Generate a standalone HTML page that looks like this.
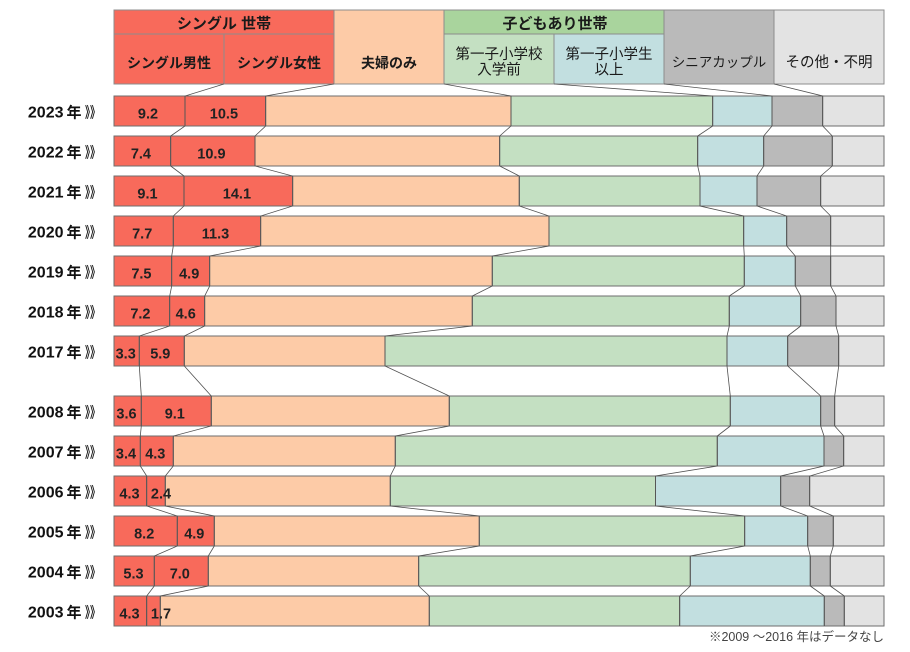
<!DOCTYPE html>
<html lang="ja">
<head>
<meta charset="utf-8">
<style>
  html,body{margin:0;padding:0;background:#fff;}
  svg{display:block;}
  .t{font-family:"Liberation Sans","Noto Sans CJK JP",sans-serif;fill:#1a1a1a;}
  .b{font-weight:bold;}
  .r{fill:#f86a5b;}
  .p{fill:#fdcba7;}
  .g{fill:#c4e0c2;}
  .u{fill:#c2dfe0;}
  .k{fill:#bababa;}
  .l{fill:#e3e3e3;}
  .bars rect{stroke:#6e6e6e;stroke-width:1;}
  .hdr rect{stroke:#8c8c8c;stroke-width:1;}
  .con polyline{fill:none;stroke:#505050;stroke-width:0.8;}
  .lab{font-family:"Liberation Sans",sans-serif;font-weight:bold;font-size:14.5px;fill:#222;text-anchor:middle;}
  .yr{font-family:"Liberation Sans",sans-serif;font-weight:bold;font-size:16px;fill:#111;text-anchor:end;}
  .nen{font-family:"Liberation Sans","Noto Sans CJK JP",sans-serif;font-weight:bold;font-size:15px;fill:#111;}
</style>
</head>
<body>
<svg width="910" height="652" viewBox="0 0 910 652" xmlns="http://www.w3.org/2000/svg">

<!-- Header -->
<g class="hdr">
  <rect class="r" x="114" y="10" width="220" height="24"/>
  <rect class="r" x="114" y="34" width="110" height="50"/>
  <rect class="r" x="224" y="34" width="110" height="50"/>
  <rect class="p" x="334" y="10" width="110" height="74"/>
  <rect x="444" y="10" width="220" height="24" fill="#a9d49d"/>
  <rect class="g" x="444" y="34" width="110" height="50"/>
  <rect class="u" x="554" y="34" width="110" height="50"/>
  <rect class="k" x="664" y="10" width="110" height="74"/>
  <rect class="l" x="774" y="10" width="110" height="74"/>
</g>
<g text-anchor="middle">
  <text class="t b" x="224" y="28.5" font-size="15">シングル 世帯</text>
  <text class="t b" x="169" y="68" font-size="14">シングル男性</text>
  <text class="t b" x="279" y="68" font-size="14">シングル女性</text>
  <text class="t b" x="389" y="68" font-size="14">夫婦のみ</text>
  <text class="t b" x="555" y="28.5" font-size="15">子どもあり世帯</text>
  <text class="t" x="499" y="59" font-size="14.5">第一子小学校</text>
  <text class="t" x="499" y="74.5" font-size="14.5">入学前</text>
  <text class="t" x="609" y="59" font-size="14.5">第一子小学生</text>
  <text class="t" x="609" y="74.5" font-size="14.5">以上</text>
  <text class="t" x="719" y="67" font-size="13.5">シニアカップル</text>
  <text class="t" x="829" y="67" font-size="14.5">その他・不明</text>
</g>

<!-- Bars -->
<g class="bars">
  <!-- 2023 -->
  <rect class="r" x="114" y="96" width="71" height="30"/>
  <rect class="r" x="185" y="96" width="80.7" height="30"/>
  <rect class="p" x="265.7" y="96" width="245.3" height="30"/>
  <rect class="g" x="511" y="96" width="201.7" height="30"/>
  <rect class="u" x="712.7" y="96" width="59.3" height="30"/>
  <rect class="k" x="772" y="96" width="50.7" height="30"/>
  <rect class="l" x="822.7" y="96" width="61.3" height="30"/>
  <!-- 2022 -->
  <rect class="r" x="114" y="136" width="56.7" height="30"/>
  <rect class="r" x="170.7" y="136" width="84.3" height="30"/>
  <rect class="p" x="255" y="136" width="244.7" height="30"/>
  <rect class="g" x="499.7" y="136" width="198" height="30"/>
  <rect class="u" x="697.7" y="136" width="66" height="30"/>
  <rect class="k" x="763.7" y="136" width="68.6" height="30"/>
  <rect class="l" x="832.3" y="136" width="51.7" height="30"/>
  <!-- 2021 -->
  <rect class="r" x="114" y="176" width="70" height="30"/>
  <rect class="r" x="184" y="176" width="108.7" height="30"/>
  <rect class="p" x="292.7" y="176" width="226.6" height="30"/>
  <rect class="g" x="519.3" y="176" width="180.7" height="30"/>
  <rect class="u" x="700" y="176" width="57" height="30"/>
  <rect class="k" x="757" y="176" width="63.7" height="30"/>
  <rect class="l" x="820.7" y="176" width="63.3" height="30"/>
  <!-- 2020 -->
  <rect class="r" x="114" y="216" width="59.3" height="30"/>
  <rect class="r" x="173.3" y="216" width="87.4" height="30"/>
  <rect class="p" x="260.7" y="216" width="288.3" height="30"/>
  <rect class="g" x="549" y="216" width="194.7" height="30"/>
  <rect class="u" x="743.7" y="216" width="43" height="30"/>
  <rect class="k" x="786.7" y="216" width="44" height="30"/>
  <rect class="l" x="830.7" y="216" width="53.3" height="30"/>
  <!-- 2019 -->
  <rect class="r" x="114" y="256" width="57.7" height="30"/>
  <rect class="r" x="171.7" y="256" width="38" height="30"/>
  <rect class="p" x="209.7" y="256" width="282.6" height="30"/>
  <rect class="g" x="492.3" y="256" width="252" height="30"/>
  <rect class="u" x="744.3" y="256" width="51" height="30"/>
  <rect class="k" x="795.3" y="256" width="35.4" height="30"/>
  <rect class="l" x="830.7" y="256" width="53.3" height="30"/>
  <!-- 2018 -->
  <rect class="r" x="114" y="296" width="55.7" height="30"/>
  <rect class="r" x="169.7" y="296" width="35" height="30"/>
  <rect class="p" x="204.7" y="296" width="267.6" height="30"/>
  <rect class="g" x="472.3" y="296" width="257" height="30"/>
  <rect class="u" x="729.3" y="296" width="71.4" height="30"/>
  <rect class="k" x="800.7" y="296" width="35.3" height="30"/>
  <rect class="l" x="836" y="296" width="48" height="30"/>
  <!-- 2017 -->
  <rect class="r" x="114" y="336" width="25.3" height="30"/>
  <rect class="r" x="139.3" y="336" width="45" height="30"/>
  <rect class="p" x="184.3" y="336" width="200.7" height="30"/>
  <rect class="g" x="385" y="336" width="342" height="30"/>
  <rect class="u" x="727" y="336" width="60.7" height="30"/>
  <rect class="k" x="787.7" y="336" width="51" height="30"/>
  <rect class="l" x="838.7" y="336" width="45.3" height="30"/>
  <!-- 2008 -->
  <rect class="r" x="114" y="396" width="27.3" height="30"/>
  <rect class="r" x="141.3" y="396" width="70" height="30"/>
  <rect class="p" x="211.3" y="396" width="238" height="30"/>
  <rect class="g" x="449.3" y="396" width="281" height="30"/>
  <rect class="u" x="730.3" y="396" width="90.4" height="30"/>
  <rect class="k" x="820.7" y="396" width="14" height="30"/>
  <rect class="l" x="834.7" y="396" width="49.3" height="30"/>
  <!-- 2007 -->
  <rect class="r" x="114" y="436" width="26.3" height="30"/>
  <rect class="r" x="140.3" y="436" width="33" height="30"/>
  <rect class="p" x="173.3" y="436" width="222" height="30"/>
  <rect class="g" x="395.3" y="436" width="322" height="30"/>
  <rect class="u" x="717.3" y="436" width="106.7" height="30"/>
  <rect class="k" x="824" y="436" width="19.7" height="30"/>
  <rect class="l" x="843.7" y="436" width="40.3" height="30"/>
  <!-- 2006 -->
  <rect class="r" x="114" y="476" width="32.7" height="30"/>
  <rect class="r" x="146.7" y="476" width="18.6" height="30"/>
  <rect class="p" x="165.3" y="476" width="225" height="30"/>
  <rect class="g" x="390.3" y="476" width="265.2" height="30"/>
  <rect class="u" x="655.5" y="476" width="125.2" height="30"/>
  <rect class="k" x="780.7" y="476" width="29" height="30"/>
  <rect class="l" x="809.7" y="476" width="74.3" height="30"/>
  <!-- 2005 -->
  <rect class="r" x="114" y="516" width="63.3" height="30"/>
  <rect class="r" x="177.3" y="516" width="37" height="30"/>
  <rect class="p" x="214.3" y="516" width="265" height="30"/>
  <rect class="g" x="479.3" y="516" width="265.4" height="30"/>
  <rect class="u" x="744.7" y="516" width="63" height="30"/>
  <rect class="k" x="807.7" y="516" width="25.6" height="30"/>
  <rect class="l" x="833.3" y="516" width="50.7" height="30"/>
  <!-- 2004 -->
  <rect class="r" x="114" y="556" width="40.3" height="30"/>
  <rect class="r" x="154.3" y="556" width="54" height="30"/>
  <rect class="p" x="208.3" y="556" width="210.4" height="30"/>
  <rect class="g" x="418.7" y="556" width="271.6" height="30"/>
  <rect class="u" x="690.3" y="556" width="120" height="30"/>
  <rect class="k" x="810.3" y="556" width="20" height="30"/>
  <rect class="l" x="830.3" y="556" width="53.7" height="30"/>
  <!-- 2003 -->
  <rect class="r" x="114" y="596" width="32.7" height="30"/>
  <rect class="r" x="146.7" y="596" width="13.6" height="30"/>
  <rect class="p" x="160.3" y="596" width="269" height="30"/>
  <rect class="g" x="429.3" y="596" width="250.4" height="30"/>
  <rect class="u" x="679.7" y="596" width="144.6" height="30"/>
  <rect class="k" x="824.3" y="596" width="20" height="30"/>
  <rect class="l" x="844.3" y="596" width="39.7" height="30"/>
</g>

<!-- Connector lines -->
<g class="con">
  <polyline points="224,84 185,96 185,126 170.7,136 170.7,166 184,176 184,206 173.3,216 173.3,246 171.7,256 171.7,286 169.7,296 169.7,326 139.3,336 139.3,366 141.3,396 141.3,426 140.3,436 140.3,466 146.7,476 146.7,506 177.3,516 177.3,546 154.3,556 154.3,586 146.7,596 146.7,626"/>
  <polyline points="334,84 265.7,96 265.7,126 255,136 255,166 292.7,176 292.7,206 260.7,216 260.7,246 209.7,256 209.7,286 204.7,296 204.7,326 184.3,336 184.3,366 211.3,396 211.3,426 173.3,436 173.3,466 165.3,476 165.3,506 214.3,516 214.3,546 208.3,556 208.3,586 160.3,596 160.3,626"/>
  <polyline points="444,84 511,96 511,126 499.7,136 499.7,166 519.3,176 519.3,206 549,216 549,246 492.3,256 492.3,286 472.3,296 472.3,326 385,336 385,366 449.3,396 449.3,426 395.3,436 395.3,466 390.3,476 390.3,506 479.3,516 479.3,546 418.7,556 418.7,586 429.3,596 429.3,626"/>
  <polyline points="554,84 712.7,96 712.7,126 697.7,136 697.7,166 700,176 700,206 743.7,216 743.7,246 744.3,256 744.3,286 729.3,296 729.3,326 727,336 727,366 730.3,396 730.3,426 717.3,436 717.3,466 655.5,476 655.5,506 744.7,516 744.7,546 690.3,556 690.3,586 679.7,596 679.7,626"/>
  <polyline points="664,84 772,96 772,126 763.7,136 763.7,166 757,176 757,206 786.7,216 786.7,246 795.3,256 795.3,286 800.7,296 800.7,326 787.7,336 787.7,366 820.7,396 820.7,426 824,436 824,466 780.7,476 780.7,506 807.7,516 807.7,546 810.3,556 810.3,586 824.3,596 824.3,626"/>
  <polyline points="774,84 822.7,96 822.7,126 832.3,136 832.3,166 820.7,176 820.7,206 830.7,216 830.7,246 830.7,256 830.7,286 836,296 836,326 838.7,336 838.7,366 834.7,396 834.7,426 843.7,436 843.7,466 809.7,476 809.7,506 833.3,516 833.3,546 830.3,556 830.3,586 844.3,596 844.3,626"/>
</g>

<!-- Value labels -->
<g class="lab">
  <text x="148" y="118.5">9.2</text><text x="223.9" y="118.5">10.5</text>
  <text x="140.9" y="158.5">7.4</text><text x="211.4" y="158.5">10.9</text>
  <text x="147.5" y="198.5">9.1</text><text x="236.9" y="198.5">14.1</text>
  <text x="142.2" y="238.5">7.7</text><text x="215.5" y="238.5">11.3</text>
  <text x="141.4" y="278.5">7.5</text><text x="189.2" y="278.5">4.9</text>
  <text x="140.4" y="318.5">7.2</text><text x="185.7" y="318.5">4.6</text>
  <text x="125.7" y="358.5">3.3</text><text x="160.3" y="358.5">5.9</text>
  <text x="126.5" y="418.5">3.6</text><text x="174.8" y="418.5">9.1</text>
  <text x="126" y="458.5">3.4</text><text x="155.3" y="458.5">4.3</text>
  <text x="129.5" y="498.5">4.3</text><text x="161" y="498.5">2.4</text>
  <text x="144.2" y="538.5">8.2</text><text x="194.3" y="538.5">4.9</text>
  <text x="133.5" y="578.5">5.3</text><text x="179.8" y="578.5">7.0</text>
  <text x="129.5" y="618.5">4.3</text><text x="161" y="618.5">1.7</text>
</g>

<!-- Year labels -->
<g>
  <text class="yr" x="63.5" y="117.5">2023</text><text class="nen" x="66.5" y="117.5">年</text><text class="nen" x="85" y="117.5" textLength="15" lengthAdjust="spacingAndGlyphs">》》</text>
  <text class="yr" x="63.5" y="157.5">2022</text><text class="nen" x="66.5" y="157.5">年</text><text class="nen" x="85" y="157.5" textLength="15" lengthAdjust="spacingAndGlyphs">》》</text>
  <text class="yr" x="63.5" y="197.5">2021</text><text class="nen" x="66.5" y="197.5">年</text><text class="nen" x="85" y="197.5" textLength="15" lengthAdjust="spacingAndGlyphs">》》</text>
  <text class="yr" x="63.5" y="237.5">2020</text><text class="nen" x="66.5" y="237.5">年</text><text class="nen" x="85" y="237.5" textLength="15" lengthAdjust="spacingAndGlyphs">》》</text>
  <text class="yr" x="63.5" y="277.5">2019</text><text class="nen" x="66.5" y="277.5">年</text><text class="nen" x="85" y="277.5" textLength="15" lengthAdjust="spacingAndGlyphs">》》</text>
  <text class="yr" x="63.5" y="317.5">2018</text><text class="nen" x="66.5" y="317.5">年</text><text class="nen" x="85" y="317.5" textLength="15" lengthAdjust="spacingAndGlyphs">》》</text>
  <text class="yr" x="63.5" y="357.5">2017</text><text class="nen" x="66.5" y="357.5">年</text><text class="nen" x="85" y="357.5" textLength="15" lengthAdjust="spacingAndGlyphs">》》</text>
  <text class="yr" x="63.5" y="417.5">2008</text><text class="nen" x="66.5" y="417.5">年</text><text class="nen" x="85" y="417.5" textLength="15" lengthAdjust="spacingAndGlyphs">》》</text>
  <text class="yr" x="63.5" y="457.5">2007</text><text class="nen" x="66.5" y="457.5">年</text><text class="nen" x="85" y="457.5" textLength="15" lengthAdjust="spacingAndGlyphs">》》</text>
  <text class="yr" x="63.5" y="497.5">2006</text><text class="nen" x="66.5" y="497.5">年</text><text class="nen" x="85" y="497.5" textLength="15" lengthAdjust="spacingAndGlyphs">》》</text>
  <text class="yr" x="63.5" y="537.5">2005</text><text class="nen" x="66.5" y="537.5">年</text><text class="nen" x="85" y="537.5" textLength="15" lengthAdjust="spacingAndGlyphs">》》</text>
  <text class="yr" x="63.5" y="577.5">2004</text><text class="nen" x="66.5" y="577.5">年</text><text class="nen" x="85" y="577.5" textLength="15" lengthAdjust="spacingAndGlyphs">》》</text>
  <text class="yr" x="63.5" y="617.5">2003</text><text class="nen" x="66.5" y="617.5">年</text><text class="nen" x="85" y="617.5" textLength="15" lengthAdjust="spacingAndGlyphs">》》</text>
</g>

<!-- Footnote -->
<text x="884" y="641" text-anchor="end" font-size="12.5" fill="#444" font-family="Liberation Sans, Noto Sans CJK JP, sans-serif">※2009 ～2016 年はデータなし</text>

</svg>
</body>
</html>
